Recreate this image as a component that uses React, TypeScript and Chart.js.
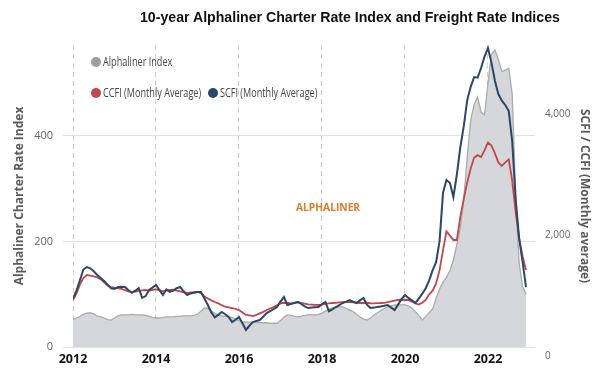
import React, { useEffect, useRef } from "react";
import { Chart, registerables } from "chart.js";

Chart.register(...registerables);

// Monthly data, Jan 2012 .. Dec 2022
const startYear = 2012;

const alphalinerIndex = [
  52, 55, 58, 62, 64, 65, 63, 59, 57, 55, 52, 51,
  55, 59, 61, 61, 61, 62, 61, 61, 61, 60, 58, 56,
  55, 55, 56, 57, 57, 57, 58, 58, 59, 59, 59, 60,
  62, 68, 74, 73, 68, 64, 61, 59, 58, 57, 56, 53,
  50, 48, 47, 47, 47, 47, 46, 46, 46, 45, 45, 45,
  50, 57, 61, 60, 58, 57, 58, 60, 61, 61, 61, 62,
  64, 68, 72, 74, 75, 76, 76, 73, 70, 67, 62, 57,
  53, 51, 55, 60, 65, 69, 73, 76, 78, 80, 80, 80,
  80, 78, 74, 67, 60, 51, 58, 65, 72, 92, 110, 123,
  132, 145, 165, 195, 225, 280, 360, 430, 460, 474, 445, 440,
  500, 555, 563, 545, 522, 525, 528, 480, 290, 160, 115, 100,
];

const ccfi = [
  926, 1030, 1180, 1290, 1339, 1330, 1315, 1300, 1270, 1220, 1160, 1140,
  1130, 1124, 1110, 1090, 1070, 1058, 1065, 1075, 1085, 1091, 1080, 1095,
  1100, 1091, 1070, 1085, 1091, 1095, 1080, 1070, 1050, 1041, 1050, 1055,
  1058, 1040, 985, 950, 920, 893, 870, 840, 815, 805, 793, 780,
  760, 720, 680, 670, 661, 680, 705, 730, 760, 785, 810, 840,
  870, 880, 876, 870, 880, 893, 880, 865, 855, 850, 845, 843,
  850, 860, 870, 876, 880, 885, 890, 893, 893, 885, 880, 876,
  876, 876, 872, 870, 874, 876, 880, 890, 905, 915, 926, 930,
  926, 926, 900, 870, 850, 880, 926, 1020, 1080, 1200, 1420, 1750,
  2060, 1990, 1918, 1918, 2300, 2600, 2870, 3100, 3280, 3320, 3290, 3400,
  3530, 3480, 3350, 3200, 3140, 3200, 3250, 2900, 2380, 1950, 1650, 1422,
];

const scfi = [
  954, 1080, 1250, 1430, 1470, 1450, 1400, 1340, 1290, 1240, 1180, 1120,
  1110, 1140, 1145, 1140, 1090, 1045, 1080, 1124, 960, 990, 1091, 1130,
  1174, 1090, 1008, 1100, 1060, 1080, 1120, 1140, 1070, 1008, 1035, 1045,
  1058, 1058, 950, 843, 720, 640, 680, 727, 690, 645, 560, 600,
  645, 540, 430, 500, 562, 580, 595, 650, 711, 740, 775, 810,
  900, 975, 843, 860, 876, 890, 860, 820, 793, 800, 805, 810,
  860, 893, 740, 770, 810, 840, 876, 900, 926, 900, 876, 920,
  959, 850, 793, 800, 810, 820, 830, 843, 800, 760, 850, 940,
  1008, 960, 920, 880, 950, 1030, 1120, 1250, 1420, 1550, 1900, 2700,
  2909, 2860, 2628, 3000, 3450, 3800, 4230, 4450, 4610, 4600, 4760, 4950,
  5090, 4850, 4550, 4330, 4220, 4150, 4050, 3550, 2600, 1950, 1560, 1140,
];

const xTicks = [2012, 2014, 2016, 2018, 2020, 2022];
const leftTicks = [0, 200, 400];
const rightTicks = [0, 2000, 4000];

const legendRow1 = [{ label: "Alphaliner Index", color: "#9d9fa4" }];
const legendRow2 = [
  { label: "CCFI (Monthly Average)", color: "#c0474a" },
  { label: "SCFI (Monthly Average)", color: "#2c4766" },
];

const toPoints = (arr: number[]) =>
  arr.map((v, i) => ({ x: startYear + i / 12, y: v }));

const SANS = '"Open Sans", sans-serif';

export default function App() {
  const ref = useRef<HTMLCanvasElement | null>(null);

  useEffect(() => {
    document.body.style.margin = "0";
    const ctx = ref.current!.getContext("2d")!;
    const chart = new Chart(ctx, {
      type: "line",
      data: {
        datasets: [
          {
            label: "SCFI (Monthly Average)",
            data: toPoints(scfi),
            yAxisID: "y1",
            borderColor: "#2c4766",
            borderWidth: 2,
            pointRadius: 0,
            fill: false,
            tension: 0,
          },
          {
            label: "CCFI (Monthly Average)",
            data: toPoints(ccfi),
            yAxisID: "y1",
            borderColor: "#c0474a",
            borderWidth: 1.8,
            pointRadius: 0,
            fill: false,
            tension: 0,
          },
          {
            label: "Alphaliner Index",
            data: toPoints(alphalinerIndex),
            yAxisID: "y",
            borderColor: "#a9abb0",
            backgroundColor: "#d5d7db",
            borderWidth: 1.3,
            pointRadius: 0,
            fill: "start",
            tension: 0,
          },
        ],
      },
      options: {
        responsive: false,
        animation: false,
        devicePixelRatio: 1,
        layout: { padding: { top: 45, left: 0, right: 0, bottom: 0 } },
        plugins: {
          legend: { display: false },
          title: { display: false },
          tooltip: { enabled: false },
        },
        scales: {
          x: {
            type: "linear",
            min: 2012,
            max: 2023.133,
            afterBuildTicks: (s: any) => {
              s.ticks = xTicks.map((v) => ({ value: v }));
            },
            afterFit: (s: any) => {
              s.height = 30;
            },
            ticks: {
              callback: (v: any) => String(v),
              color: "#111",
              font: { family: SANS, size: 12.5, weight: "bold" },
              padding: 5,
              maxRotation: 0,
              autoSkip: false,
            },
            grid: {
              color: "#cfcfcf",
              lineWidth: 1,
              drawTicks: false,
            },
            border: { display: false, dash: [5, 4] },
          },
          y: {
            position: "left",
            min: 0,
            max: 572.5,
            afterBuildTicks: (s: any) => {
              s.ticks = leftTicks.map((v) => ({ value: v }));
            },
            afterFit: (s: any) => {
              s.width = 73;
            },
            ticks: {
              color: "#666",
              font: { family: SANS, size: 11 },
              padding: 10,
            },
            grid: {
              color: "#e2e2e2",
              lineWidth: 1,
              drawTicks: true,
              tickLength: 10,
            },
            border: { display: false },
            title: {
              display: true,
              text: "Alphaliner Charter Rate Index",
              color: "#5a5a5a",
              font: { family: SANS, size: 12, weight: "bold" },
              padding: { top: 12, bottom: 0 },
            },
          },
          y1: {
            position: "right",
            min: 149,
            max: 5141,
            afterBuildTicks: (s: any) => {
              s.ticks = rightTicks.map((v) => ({ value: v }));
            },
            afterFit: (s: any) => {
              s.width = 65;
            },
            ticks: {
              color: "#666",
              font: { family: SANS, size: 10 },
              padding: 10,
              callback: (v: any) => Number(v).toLocaleString("en-US"),
            },
            grid: { display: false, drawTicks: false },
            border: { display: false },
            title: {
              display: true,
              text: "SCFI / CCFI (Monthly average)",
              color: "#5a5a5a",
              font: { family: SANS, size: 12, weight: "bold" },
              padding: { top: 8, bottom: 0 },
            },
          },
        },
      },
    });
    return () => chart.destroy();
  }, []);

  const legendItem = (it: { label: string; color: string }, left: number, top: number) => (
    <div
      key={it.label}
      style={{
        position: "absolute",
        left,
        top,
        display: "flex",
        alignItems: "center",
        whiteSpace: "nowrap",
      }}
    >
      <span
        style={{
          display: "inline-block",
          width: 10,
          height: 10,
          borderRadius: "50%",
          background: it.color,
          marginRight: 2,
        }}
      />
      <span
        style={{
          fontFamily: SANS,
          fontSize: 12,
          color: "#444",
          display: "inline-block",
          transform: "scaleX(0.76)",
          transformOrigin: "left center",
        }}
      >
        {it.label}
      </span>
    </div>
  );

  return (
    <div style={{ position: "fixed", left: 0, top: 0, width: 600, height: 377, background: "#fff" }}>
      <canvas ref={ref} width={600} height={377} style={{ position: "absolute", left: 0, top: 0 }} />
      <div
        style={{
          position: "absolute",
          left: 140,
          top: 9,
          fontFamily: '"Liberation Sans", Arial, sans-serif',
          fontWeight: "bold",
          fontSize: 14,
          color: "#111",
          whiteSpace: "nowrap",
          transform: "scaleX(1.01)",
          transformOrigin: "left center",
        }}
      >
        10-year Alphaliner Charter Rate Index and Freight Rate Indices
      </div>
      {legendItem(legendRow1[0], 91, 53)}
      {legendItem(legendRow2[0], 91, 84)}
      {legendItem(legendRow2[1], 208, 84)}
      <div
        style={{
          position: "absolute",
          left: 296,
          top: 199,
          fontFamily: SANS,
          fontWeight: "bold",
          fontSize: 11,
          color: "#dd7a2c",
          whiteSpace: "nowrap",
          transform: "scaleX(0.93)",
          transformOrigin: "left center",
        }}
      >
        ALPHALINER
      </div>
    </div>
  );
}
